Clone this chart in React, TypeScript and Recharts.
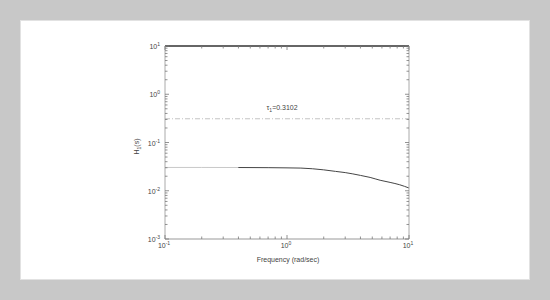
import React from "react";
import { LineChart, Line, XAxis, YAxis, ReferenceLine } from "recharts";

// frequency (rad/sec) and |H1|
const freq = [0.1, 0.2, 0.4, 0.7, 1, 1.3, 2, 2.5, 3, 4, 4.8, 5.8, 7, 8.4, 10];
const h1 = [0.0304, 0.0304, 0.0303, 0.0301, 0.0298, 0.0295, 0.0271, 0.0252, 0.0238, 0.0208, 0.0189, 0.0165, 0.0149, 0.0133, 0.0114];
const tau1 = 0.3102;

const xMajor = [0.1, 1, 10];
const yMajor = [0.001, 0.01, 0.1, 1, 10];
const decadeTicks = (majors: number[]) => {
  const out: number[] = [];
  majors.forEach((m, i) => {
    out.push(m);
    if (i < majors.length - 1) for (let k = 2; k <= 9; k++) out.push(+(m * k).toPrecision(3));
  });
  return out;
};
const xTicks = decadeTicks(xMajor);
const yTicks = decadeTicks(yMajor);

const data = freq.map((f, i) => ({ f, h: h1[i] }));

const FONT = "'Liberation Sans', Arial, sans-serif";
const TXT = "#444";
const isMajor = (v: number, majors: number[]) => majors.some((m) => Math.abs(v - m) / m < 1e-6);
const expOf = (v: number) => Math.round(Math.log10(v));

function Pow({ x, y, v, anchor }: { x: number; y: number; v: number; anchor: "middle" | "end" }) {
  return (
    <text x={x} y={y} textAnchor={anchor} fontSize={7} fill={TXT} fontFamily={FONT}>
      10
      <tspan dy={-3} fontSize={5}>
        {expOf(v)}
      </tspan>
    </text>
  );
}

function XTick(props: any) {
  const { x, y, payload, side } = props;
  const major = isMajor(payload.value, xMajor);
  const len = major ? 4 : 2.5;
  const dir = side === "top" ? 1 : -1;
  return (
    <g>
      <line x1={x} y1={y} x2={x} y2={y + dir * len} stroke="#777" strokeWidth={0.8} />
      {side === "bottom" && major && <Pow x={x - 1} y={y + 9} v={payload.value} anchor="middle" />}
    </g>
  );
}

function YTick(props: any) {
  const { x, y, payload, side } = props;
  const major = isMajor(payload.value, yMajor);
  const len = major ? 4 : 2.5;
  const dir = side === "left" ? 1 : -1;
  return (
    <g>
      <line x1={x} y1={y} x2={x + dir * len} y2={y} stroke="#777" strokeWidth={0.8} />
      {side === "left" && major && <Pow x={x - 5} y={y + 3} v={payload.value} anchor="end" />}
    </g>
  );
}

export default function App() {
  return (
    <div style={{ position: "absolute", left: 0, top: 0, width: 550, height: 300, background: "#c8c8c8" }}>
      <div
        style={{
          position: "absolute",
          left: 20,
          top: 20,
          width: 508,
          height: 258,
          background: "#fff",
          border: "1px solid #e2e2e2",
        }}
      />
      <div style={{ position: "absolute", left: 0, top: 0 }}>
        <LineChart width={550} height={300} data={data} margin={{ top: 45, right: 140, bottom: 31, left: 135 }}>
          <defs>
            <linearGradient id="curveStroke" x1="0" y1="0" x2="1" y2="0">
              <stop offset="0%" stopColor="#c8c8c8" />
              <stop offset="30%" stopColor="#c8c8c8" />
              <stop offset="30%" stopColor="#444" />
              <stop offset="100%" stopColor="#444" />
            </linearGradient>
          </defs>
          <XAxis
            xAxisId="b"
            dataKey="f"
            type="number"
            scale="log"
            domain={[0.1, 10]}
            allowDataOverflow
            ticks={xTicks}
            interval={0}
            height={30}
            tickSize={0}
            tickMargin={0}
            tickLine={false}
            axisLine={{ stroke: "#999" }}
            tick={(p: any) => <XTick {...p} side="bottom" />}
            label={({ viewBox }: any) => (
              <text
                x={viewBox.x + viewBox.width / 2 + 1}
                y={viewBox.y + 23}
                textAnchor="middle"
                fontSize={7}
                fill={TXT}
                fontFamily={FONT}
              >
                Frequency (rad/sec)
              </text>
            )}
          />
          <XAxis
            xAxisId="t"
            orientation="top"
            dataKey="f"
            type="number"
            scale="log"
            domain={[0.1, 10]}
            allowDataOverflow
            ticks={xTicks}
            interval={0}
            height={1}
            tickSize={0}
            tickMargin={0}
            tickLine={false}
            axisLine={{ stroke: "#333", strokeWidth: 1.4 }}
            tick={(p: any) => <XTick {...p} side="top" />}
          />
          <YAxis
            yAxisId="l"
            type="number"
            scale="log"
            domain={[0.001, 10]}
            allowDataOverflow
            ticks={yTicks}
            interval={0}
            width={30}
            tickSize={0}
            tickMargin={0}
            tickLine={false}
            axisLine={{ stroke: "#aaa" }}
            tick={(p: any) => <YTick {...p} side="left" />}
            label={({ viewBox }: any) => {
              const cx = viewBox.x + 4;
              const cy = viewBox.y + viewBox.height / 2 + 4;
              return (
                <text
                  x={cx}
                  y={cy}
                  transform={`rotate(-90 ${cx} ${cy})`}
                  textAnchor="middle"
                  fontSize={7}
                  fill={TXT}
                  fontFamily={FONT}
                >
                  H
                  <tspan dy={2} fontSize={5}>
                    1
                  </tspan>
                  <tspan dy={-2}>(s)</tspan>
                </text>
              );
            }}
          />
          <YAxis
            yAxisId="r"
            orientation="right"
            type="number"
            scale="log"
            domain={[0.001, 10]}
            allowDataOverflow
            ticks={yTicks}
            interval={0}
            width={1}
            tickSize={0}
            tickMargin={0}
            tickLine={false}
            axisLine={{ stroke: "#aaa" }}
            tick={(p: any) => <YTick {...p} side="right" />}
          />
          <ReferenceLine
            xAxisId="b"
            yAxisId="l"
            y={tau1}
            stroke="#c4c4c4"
            strokeDasharray="5 2 1 2"
            label={({ viewBox }: any) => (
              <text x={viewBox.x + viewBox.width * 0.48} y={viewBox.y - 9} textAnchor="middle" fontSize={7} fill={TXT} fontFamily={FONT}>
                τ
                <tspan dy={2} fontSize={5}>
                  1
                </tspan>
                <tspan dy={-2}>={tau1}</tspan>
              </text>
            )}
          />
          <Line
            xAxisId="b"
            yAxisId="l"
            dataKey="h"
            type="monotone"
            stroke="url(#curveStroke)"
            strokeWidth={1}
            dot={false}
            isAnimationActive={false}
          />
        </LineChart>
      </div>
    </div>
  );
}
